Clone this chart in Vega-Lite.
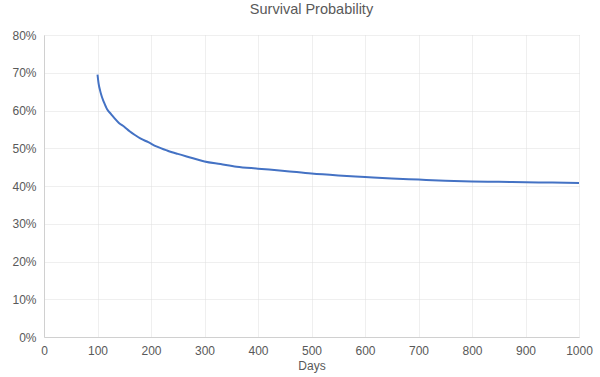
{
  "$schema": "https://vega.github.io/schema/vega-lite/v6.json",
  "autosize": "none",
  "width": 535,
  "height": 302,
  "padding": {"left": 44, "top": 35, "right": 21, "bottom": 40},
  "background": "white",
  "title": {"text": "Survival Probability", "font": "Liberation Sans", "fontSize": 14.5, "fontWeight": "normal", "color": "#595959", "offset": 12, "anchor": "middle"},
  "config": {"view": {"stroke": null}, "font": "Liberation Sans"},
  "data": {"values": [
    {"days": 100, "p": 0.695},
    {"days": 102, "p": 0.672},
    {"days": 105, "p": 0.652},
    {"days": 108, "p": 0.637},
    {"days": 112, "p": 0.622},
    {"days": 118, "p": 0.603},
    {"days": 125, "p": 0.591},
    {"days": 132, "p": 0.579},
    {"days": 140, "p": 0.567},
    {"days": 150, "p": 0.557},
    {"days": 160, "p": 0.545},
    {"days": 170, "p": 0.535},
    {"days": 180, "p": 0.526},
    {"days": 195, "p": 0.516},
    {"days": 210, "p": 0.505},
    {"days": 230, "p": 0.494},
    {"days": 250, "p": 0.485},
    {"days": 275, "p": 0.475},
    {"days": 300, "p": 0.465},
    {"days": 330, "p": 0.458},
    {"days": 360, "p": 0.451},
    {"days": 400, "p": 0.446},
    {"days": 450, "p": 0.440},
    {"days": 500, "p": 0.433},
    {"days": 550, "p": 0.428},
    {"days": 600, "p": 0.424},
    {"days": 650, "p": 0.420},
    {"days": 700, "p": 0.417},
    {"days": 750, "p": 0.414},
    {"days": 800, "p": 0.412},
    {"days": 850, "p": 0.411},
    {"days": 900, "p": 0.410},
    {"days": 950, "p": 0.409},
    {"days": 1000, "p": 0.408}
  ]},
  "mark": {"type": "line", "color": "#4472C4", "strokeWidth": 2, "interpolate": "monotone"},
  "encoding": {
    "x": {"field": "days", "type": "quantitative", "title": "Days",
      "scale": {"domain": [0, 1000], "nice": false},
      "axis": {"values": [0,100,200,300,400,500,600,700,800,900,1000], "format": "d", "labelFlush": false, "labelOverlap": false, "grid": true, "gridColor": "#dedede", "gridDash": [1,1], "domainColor": "#d0d0d0", "ticks": false, "labelColor": "#595959", "labelFontSize": 12, "labelPadding": 8, "titleColor": "#595959", "titleFontSize": 12, "titleFontWeight": "normal", "titlePadding": 4}},
    "y": {"field": "p", "type": "quantitative", "title": null,
      "scale": {"domain": [0, 0.8], "nice": false},
      "axis": {"values": [0,0.1,0.2,0.3,0.4,0.5,0.6,0.7,0.8], "format": ".0%", "labelFlush": false, "grid": true, "gridColor": "#dedede", "gridDash": [1,1], "domainColor": "#d0d0d0", "ticks": false, "labelColor": "#595959", "labelFontSize": 12, "labelPadding": 8}}
  }
}
